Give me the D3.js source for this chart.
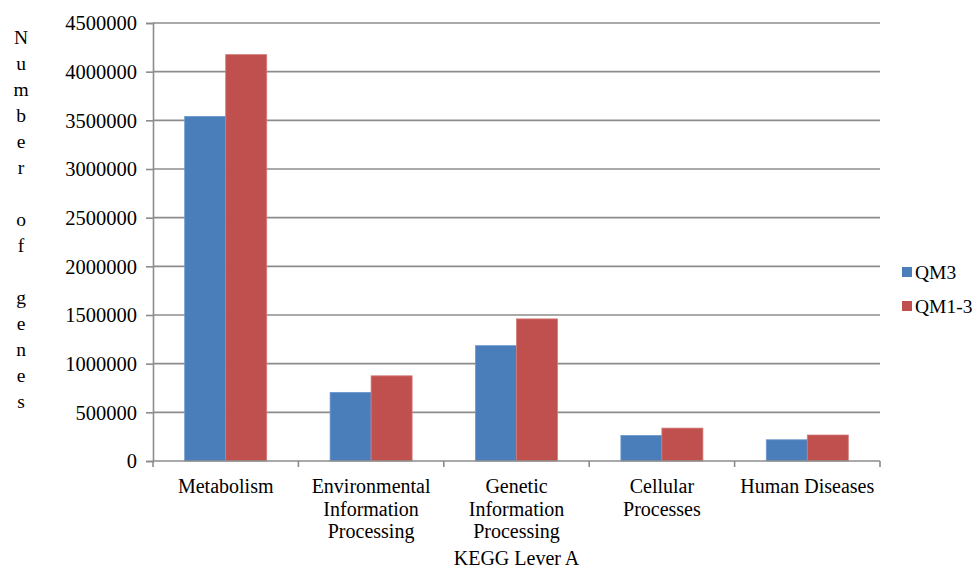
<!DOCTYPE html>
<html>
<head>
<meta charset="utf-8">
<script src="https://cdn.jsdelivr.net/npm/d3@7"></script>
<style>
  html, body { margin: 0; padding: 0; background: #fff; }
</style>
</head>
<body>
<svg id="chart" width="972" height="568"></svg>
<script>
// KEGG level A categories and gene counts per sample
const categories = [
  ["Metabolism"],
  ["Environmental", "Information", "Processing"],
  ["Genetic", "Information", "Processing"],
  ["Cellular", "Processes"],
  ["Human Diseases"]
];
const seriesNames = ["QM3", "QM1-3"];
const qm3Values = [3540000, 705000, 1185000, 262000, 218000];
const qm13Values = [4175000, 875000, 1460000, 338000, 267000];
const yTicks = [0, 500000, 1000000, 1500000, 2000000, 2500000, 3000000, 3500000, 4000000, 4500000];
const yTitle = "Number of genes";
const xTitle = "KEGG Lever A";
const colors = ["#4A7EBB", "#C0504D"];

const FONT = "'Liberation Serif', 'Times New Roman', Times, serif";
const svg = d3.select("#chart");
const plotLeft = 153, plotRight = 880, plotTop = 23, plotBottom = 461;
const gridColor = "#8c8c8c";

const catKeys = categories.map(c => c.join(" "));
const x0 = d3.scaleBand().domain(catKeys).range([plotLeft, plotRight]).paddingInner(0).paddingOuter(0);
const x1 = d3.scaleBand().domain(seriesNames).range([0, x0.bandwidth()]).paddingInner(0).paddingOuter(0.773);
const y = d3.scaleLinear().domain([0, 4500000]).range([plotBottom, plotTop]);

// horizontal gridlines
svg.append("g").selectAll("line").data(yTicks.filter(t => t > 0)).join("line")
  .attr("x1", plotLeft).attr("x2", plotRight)
  .attr("y1", d => y(d)).attr("y2", d => y(d))
  .attr("stroke", gridColor).attr("stroke-width", 1.6);

// bars
const data = catKeys.map((k, i) => ({ key: k, vals: [qm3Values[i], qm13Values[i]] }));
const groups = svg.append("g").selectAll("g").data(data).join("g")
  .attr("transform", d => `translate(${x0(d.key)},0)`);
groups.selectAll("rect").data(d => d.vals.map((v, j) => ({ name: seriesNames[j], v, j }))).join("rect")
  .attr("x", d => x1(d.name))
  .attr("width", x1.bandwidth())
  .attr("y", d => y(d.v))
  .attr("height", d => y(0) - y(d.v))
  .attr("fill", d => colors[d.j])
  .attr("stroke", d => d.j === 0 ? "#6a97cc" : "#d27a78")
  .attr("stroke-width", 0.8);

// y axis
const yAxis = svg.append("g").attr("transform", `translate(${plotLeft},0)`)
  .call(d3.axisLeft(y).tickValues(yTicks).tickFormat(d3.format("d")).tickSize(7).tickPadding(9));
yAxis.attr("font-family", null);
yAxis.select(".domain").attr("stroke", gridColor).attr("stroke-width", 1.6);
yAxis.selectAll(".tick line").attr("stroke", gridColor).attr("stroke-width", 1.6);
yAxis.selectAll(".tick text").attr("dy", "0.34em").attr("fill", "#000")
  .style("font-family", FONT).style("font-size", "20.5px");

// x axis with ticks at category boundaries
const xAxisG = svg.append("g").attr("transform", `translate(0,${plotBottom})`);
xAxisG.append("line").attr("x1", plotLeft).attr("x2", plotRight).attr("y1", 0).attr("y2", 0)
  .attr("stroke", gridColor).attr("stroke-width", 1.6);
const bounds = catKeys.map(k => x0(k)).concat([plotRight]);
xAxisG.selectAll("line.tk").data(bounds).join("line").attr("class", "tk")
  .attr("x1", d => d).attr("x2", d => d).attr("y1", 0).attr("y2", 6)
  .attr("stroke", gridColor).attr("stroke-width", 1.6);

// category labels
const labels = svg.append("g").selectAll("text").data(categories).join("text")
  .attr("x", (d, i) => x0(catKeys[i]) + x0.bandwidth() / 2)
  .attr("y", 493)
  .attr("text-anchor", "middle")
  .style("font-family", FONT).style("font-size", "20px");
labels.selectAll("tspan").data(d => d).join("tspan")
  .attr("x", function () { return d3.select(this.parentNode).attr("x"); })
  .attr("dy", (d, i) => i === 0 ? 0 : 22.6)
  .text(d => d);

// x title
svg.append("text").attr("x", (plotLeft + plotRight) / 2).attr("y", 565)
  .attr("text-anchor", "middle").style("font-family", FONT).style("font-size", "20px").text(xTitle);

// vertical y title, one letter per line
svg.append("g").selectAll("text").data(yTitle.split("")).join("text")
  .attr("x", 21).attr("y", (d, i) => 44 + i * 26)
  .attr("text-anchor", "middle").style("font-family", FONT).style("font-size", "19.5px")
  .text(d => d);

// legend
const legend = svg.append("g").selectAll("g").data(seriesNames).join("g")
  .attr("transform", (d, i) => `translate(902,${272 + i * 34})`);
legend.append("rect").attr("x", 0).attr("y", -5).attr("width", 10).attr("height", 10)
  .attr("fill", (d, i) => colors[i]);
legend.append("text").attr("x", 13).attr("y", 6.5)
  .style("font-family", FONT).style("font-size", "19.5px").text(d => d);
</script>
</body>
</html>
